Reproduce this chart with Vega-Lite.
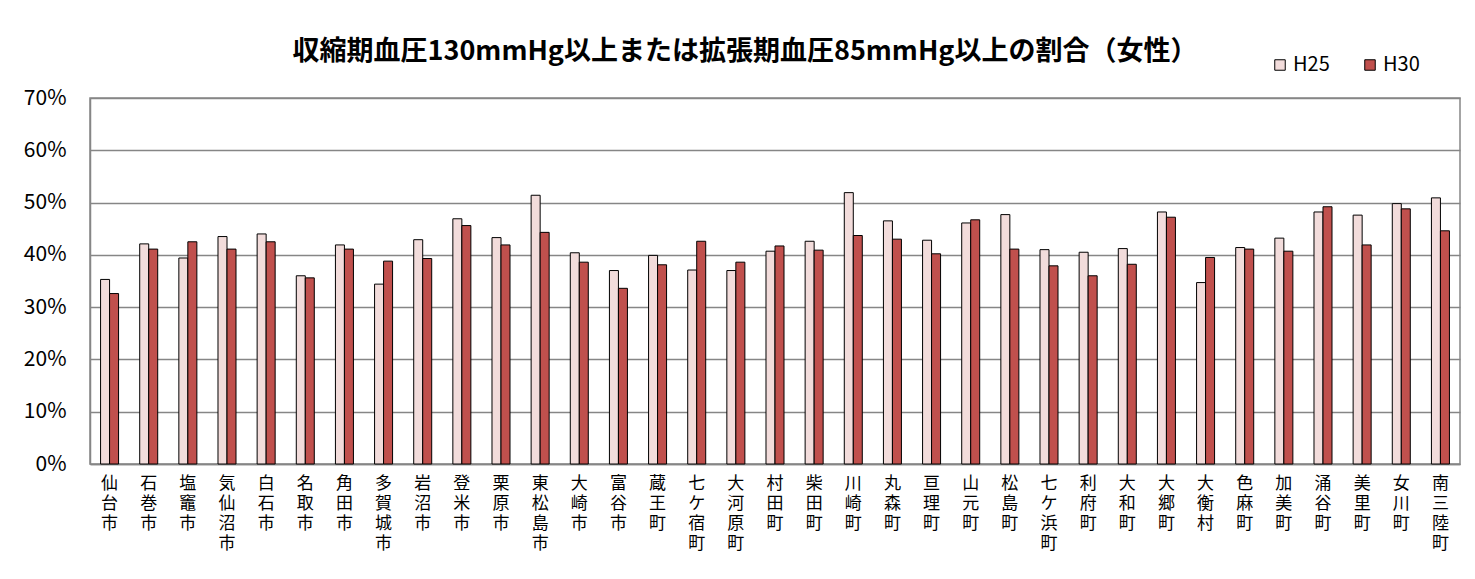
{
  "$schema": "https://vega.github.io/schema/vega-lite/v6.json",
  "autosize": {"type": "none"},
  "width": 1370,
  "height": 366,
  "padding": {"left": 90, "top": 98, "right": 15, "bottom": 115},
  "background": "white",
  "title": {
    "text": "収縮期血圧130mmHg以上または拡張期血圧85mmHg以上の割合（女性）",
    "font": "Noto Sans CJK JP",
    "fontSize": 27,
    "fontWeight": "bold",
    "color": "black",
    "anchor": "middle",
    "dx": -30,
    "offset": -11
  },
  "data": {
    "values": [
      {"city": "仙台市", "year": "H25", "value": 0.353}, {"city": "仙台市", "year": "H30", "value": 0.326},
      {"city": "石巻市", "year": "H25", "value": 0.421}, {"city": "石巻市", "year": "H30", "value": 0.411},
      {"city": "塩竈市", "year": "H25", "value": 0.394}, {"city": "塩竈市", "year": "H30", "value": 0.425},
      {"city": "気仙沼市", "year": "H25", "value": 0.435}, {"city": "気仙沼市", "year": "H30", "value": 0.411},
      {"city": "白石市", "year": "H25", "value": 0.440}, {"city": "白石市", "year": "H30", "value": 0.425},
      {"city": "名取市", "year": "H25", "value": 0.360}, {"city": "名取市", "year": "H30", "value": 0.356},
      {"city": "角田市", "year": "H25", "value": 0.419}, {"city": "角田市", "year": "H30", "value": 0.411},
      {"city": "多賀城市", "year": "H25", "value": 0.344}, {"city": "多賀城市", "year": "H30", "value": 0.388},
      {"city": "岩沼市", "year": "H25", "value": 0.429}, {"city": "岩沼市", "year": "H30", "value": 0.393},
      {"city": "登米市", "year": "H25", "value": 0.469}, {"city": "登米市", "year": "H30", "value": 0.456},
      {"city": "栗原市", "year": "H25", "value": 0.433}, {"city": "栗原市", "year": "H30", "value": 0.419},
      {"city": "東松島市", "year": "H25", "value": 0.514}, {"city": "東松島市", "year": "H30", "value": 0.443},
      {"city": "大崎市", "year": "H25", "value": 0.404}, {"city": "大崎市", "year": "H30", "value": 0.386},
      {"city": "富谷市", "year": "H25", "value": 0.370}, {"city": "富谷市", "year": "H30", "value": 0.336},
      {"city": "蔵王町", "year": "H25", "value": 0.399}, {"city": "蔵王町", "year": "H30", "value": 0.381},
      {"city": "七ケ宿町", "year": "H25", "value": 0.371}, {"city": "七ケ宿町", "year": "H30", "value": 0.426},
      {"city": "大河原町", "year": "H25", "value": 0.370}, {"city": "大河原町", "year": "H30", "value": 0.386},
      {"city": "村田町", "year": "H25", "value": 0.407}, {"city": "村田町", "year": "H30", "value": 0.417},
      {"city": "柴田町", "year": "H25", "value": 0.426}, {"city": "柴田町", "year": "H30", "value": 0.409},
      {"city": "川崎町", "year": "H25", "value": 0.519}, {"city": "川崎町", "year": "H30", "value": 0.437},
      {"city": "丸森町", "year": "H25", "value": 0.465}, {"city": "丸森町", "year": "H30", "value": 0.430},
      {"city": "亘理町", "year": "H25", "value": 0.428}, {"city": "亘理町", "year": "H30", "value": 0.402},
      {"city": "山元町", "year": "H25", "value": 0.461}, {"city": "山元町", "year": "H30", "value": 0.467},
      {"city": "松島町", "year": "H25", "value": 0.477}, {"city": "松島町", "year": "H30", "value": 0.411},
      {"city": "七ケ浜町", "year": "H25", "value": 0.410}, {"city": "七ケ浜町", "year": "H30", "value": 0.379},
      {"city": "利府町", "year": "H25", "value": 0.405}, {"city": "利府町", "year": "H30", "value": 0.360},
      {"city": "大和町", "year": "H25", "value": 0.412}, {"city": "大和町", "year": "H30", "value": 0.382},
      {"city": "大郷町", "year": "H25", "value": 0.482}, {"city": "大郷町", "year": "H30", "value": 0.472},
      {"city": "大衡村", "year": "H25", "value": 0.347}, {"city": "大衡村", "year": "H30", "value": 0.395},
      {"city": "色麻町", "year": "H25", "value": 0.414}, {"city": "色麻町", "year": "H30", "value": 0.411},
      {"city": "加美町", "year": "H25", "value": 0.432}, {"city": "加美町", "year": "H30", "value": 0.407},
      {"city": "涌谷町", "year": "H25", "value": 0.482}, {"city": "涌谷町", "year": "H30", "value": 0.492},
      {"city": "美里町", "year": "H25", "value": 0.476}, {"city": "美里町", "year": "H30", "value": 0.419},
      {"city": "女川町", "year": "H25", "value": 0.498}, {"city": "女川町", "year": "H30", "value": 0.488},
      {"city": "南三陸町", "year": "H25", "value": 0.509}, {"city": "南三陸町", "year": "H30", "value": 0.446}
    ]
  },
  "mark": {"type": "bar", "stroke": "black", "strokeWidth": 1},
  "encoding": {
    "x": {
      "field": "city",
      "type": "nominal",
      "sort": null,
      "scale": {"paddingInner": 0.54, "paddingOuter": 0.27},
      "axis": {
        "title": null,
        "labelAngle": 0,
        "labelExpr": "split(datum.label, '')",
        "labelFont": "Noto Sans CJK JP",
        "labelFontSize": 17,
        "labelLineHeight": 20,
        "labelColor": "black",
        "labelBaseline": "top",
        "labelPadding": 11,
        "ticks": false,
        "domainColor": "#868686",
        "domainWidth": 1.5
      }
    },
    "xOffset": {"field": "year", "type": "nominal", "sort": ["H25", "H30"]},
    "y": {
      "field": "value",
      "type": "quantitative",
      "scale": {"domain": [0, 0.7], "nice": false},
      "axis": {
        "title": null,
        "values": [0, 0.1, 0.2, 0.3, 0.4, 0.5, 0.6, 0.7],
        "format": ".0%",
        "labelFont": "Noto Sans CJK JP",
        "labelFontSize": 21,
        "labelColor": "black",
        "labelPadding": 24,
        "ticks": false,
        "domainColor": "#868686",
        "domainWidth": 1.5,
        "gridColor": "#868686",
        "gridWidth": 1.5
      }
    },
    "color": {
      "field": "year",
      "type": "nominal",
      "scale": {"domain": ["H25", "H30"], "range": ["#F2DCDB", "#C0504D"]},
      "legend": {
        "title": null,
        "orient": "none",
        "direction": "horizontal",
        "legendX": 1180,
        "legendY": -43,
        "symbolType": "square",
        "symbolSize": 110,
        "symbolStrokeColor": "black",
        "symbolStrokeWidth": 1,
        "labelFont": "Noto Sans CJK JP",
        "labelFontSize": 20,
        "labelColor": "black",
        "labelOffset": 3,
        "columnPadding": 30
      }
    }
  },
  "config": {
    "view": {"stroke": "#868686", "strokeWidth": 1.5},
    "axis": {"gridOpacity": 1}
  }
}
